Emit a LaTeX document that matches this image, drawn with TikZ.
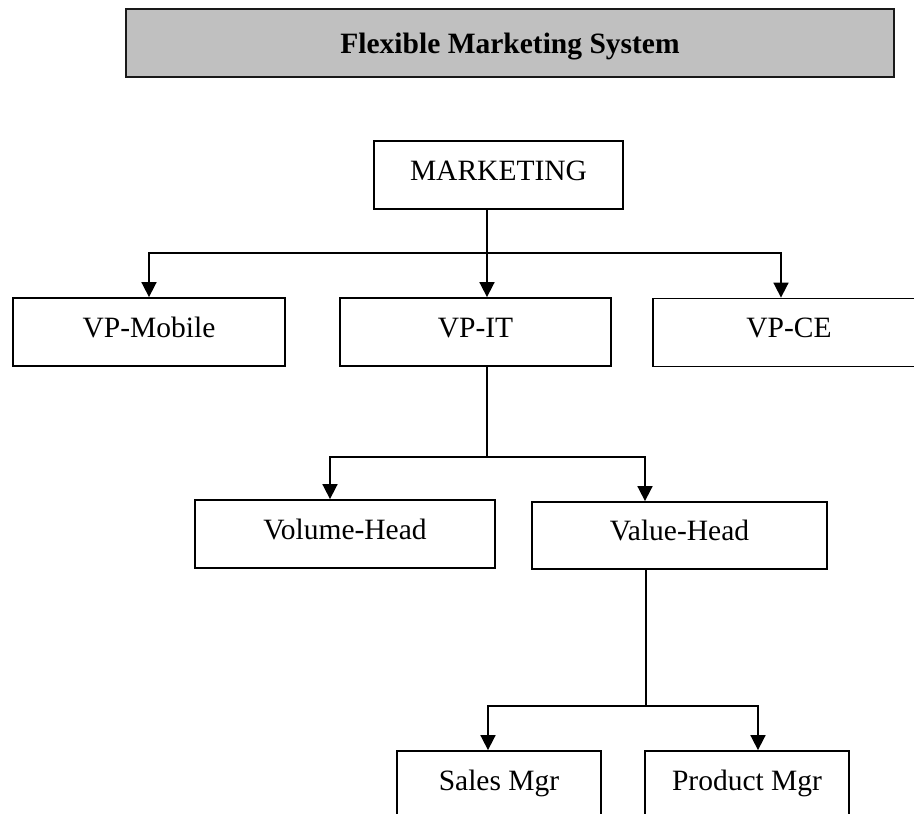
\documentclass[tikz,border=0pt]{standalone}
\usepackage{fontspec}
\setmainfont{Liberation Serif}
\usetikzlibrary{arrows.meta}
\definecolor{titlegray}{HTML}{C0C0C0}
\begin{document}
\begin{tikzpicture}[x=1pt,y=-1pt,
  box/.style={draw=black, line width=1.8pt, inner sep=0pt, minimum height=68pt,
    text height=20pt, text depth=10pt, font=\fontsize{29.5}{34}\selectfont},
  titlebox/.style={draw=black!90, line width=2.8pt, fill=titlegray, inner sep=0pt,
    minimum width=768pt, minimum height=68pt, text height=20pt, text depth=0pt,
    font=\fontsize{29.5}{34}\selectfont\bfseries},
  conn/.style={line width=1.7pt, black},
  arr/.style={conn, -{Triangle[length=15pt,width=15pt]}}]
\useasboundingbox (0,0) rectangle (914,814);
\fill[white] (0,0) rectangle (914,814);

\node[titlebox] (title) at (510,43) {Flexible Marketing System};

\node[box, minimum width=249pt] (mkt) at (498.5,175) {MARKETING};

\node[box, minimum width=272pt] (vpm) at (149,332) {VP-Mobile};
\node[box, minimum width=271pt] (vpit) at (475.5,332) {VP-IT};
\node[box, minimum width=272pt] (vpce) at (789,332.5) {VP-CE};

\node[box, minimum width=300pt] (vol) at (345,534) {Volume-Head};
\node[box, minimum width=295pt, minimum height=67pt] (val) at (679.5,535.5) {Value-Head};

\node[box, minimum width=204pt] (sales) at (499,785) {Sales Mgr};
\node[box, minimum width=204pt] (prod) at (747,785) {Product Mgr};

% MARKETING -> VPs
\coordinate (j1) at (487,253);
\draw[conn] (mkt.south -| j1) -- (j1);
\draw[arr] (j1) -| (vpm.north);
\draw[arr] (j1) -- (j1 |- vpit.north);
\draw[arr] (j1) -| ([xshift=-8pt]vpce.north);

% VP-IT -> heads
\coordinate (j2) at (487,457);
\draw[conn] (vpit.south -| j2) -- (j2);
\draw[arr] (j2) -| ([xshift=-15pt]vol.north);
\draw[arr] (j2) -| ([xshift=-34.5pt]val.north);

% Value-Head -> managers
\coordinate (j3) at (646,706);
\draw[conn] (val.south -| j3) -- (j3);
\draw[arr] (j3) -| ([xshift=-11pt]sales.north);
\draw[arr] (j3) -| ([xshift=11pt]prod.north);
\end{tikzpicture}
\end{document}
